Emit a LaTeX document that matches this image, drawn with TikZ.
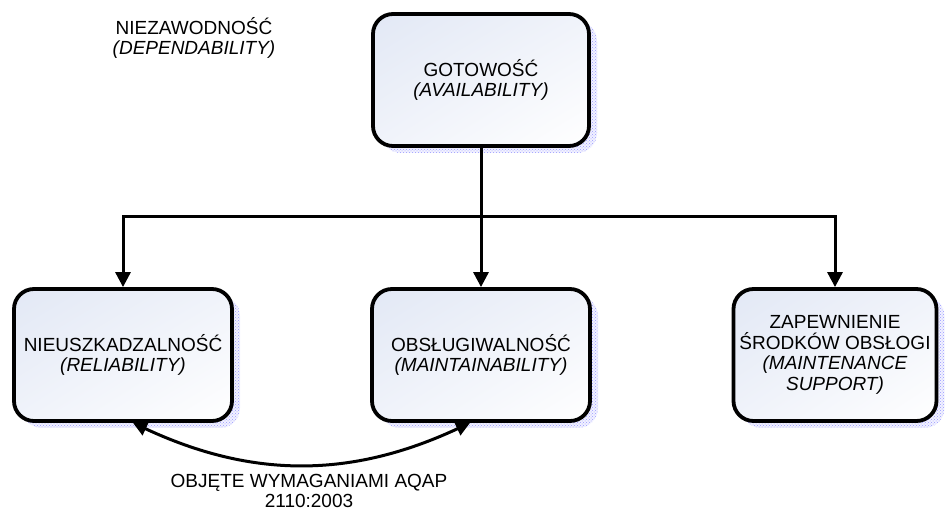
\documentclass[tikz,border=0pt]{standalone}
\usepackage{fontspec}
\setmainfont{Liberation Sans}
\usetikzlibrary{arrows.meta, positioning, shadows, shadings, patterns}

\definecolor{boxtop}{RGB}{226,232,245}
\definecolor{boxmid}{RGB}{240,243,250}

\tikzset{
  txt/.style={align=center, font=\fontsize{19}{20.5}\selectfont},
  block/.style={txt, draw, line width=3.8pt, rounded corners=20pt,
    minimum width=218pt, minimum height=132pt,
    upper left=boxtop, upper right=boxmid,
    lower left=boxmid, lower right=white,
    general shadow={shadow xshift=8pt, shadow yshift=-7pt, fill=blue!5},
    general shadow={shadow xshift=8pt, shadow yshift=-7pt,
      pattern=crosshatch dots, pattern color=blue!40}},
  link/.style={line width=3pt, -{Triangle[length=15pt,width=15pt]}},
}

\begin{document}
\begin{tikzpicture}[x=1pt, y=1pt]
\useasboundingbox (0,0) rectangle (946,511);

% Title
\node[txt] (dep) at (194,473) {NIEZAWODNOŚĆ\\\textit{(DEPENDABILITY)}};

% Draw boxes
\node[block, minimum width=216pt] (avail) at (481,431) {GOTOWOŚĆ\\\textit{(AVAILABILITY)}};
\node[block] (relia) at (123,156) {NIEUSZKADZALNOŚĆ\\\textit{(RELIABILITY)}};
\node[block] (maint) at (481,156) {OBSŁUGIWALNOŚĆ\\\textit{(MAINTAINABILITY)}};
\node[block, minimum width=203pt] (supp) at (835,156) {ZAPEWNIENIE\\ŚRODKÓW OBSŁOGI\\\textit{(MAINTENANCE}\\\textit{SUPPORT)}};

% Draw connectors
\coordinate (split) at (481,294);
\draw[link] (avail.south) -- (maint.north);
\draw[link] (split) -| (relia.north);
\draw[link] (split) -| (supp.north);

% Curved link with label
\draw[line width=3pt, {Triangle[length=14pt,width=14pt]}-{Triangle[length=14pt,width=14pt]}]
  ([xshift=10pt]relia.south) to[bend right=25] ([xshift=-11pt]maint.south);
\node[txt] (aqap) at (309,20) {OBJĘTE WYMAGANIAMI AQAP\\2110:2003};

\end{tikzpicture}
\end{document}
